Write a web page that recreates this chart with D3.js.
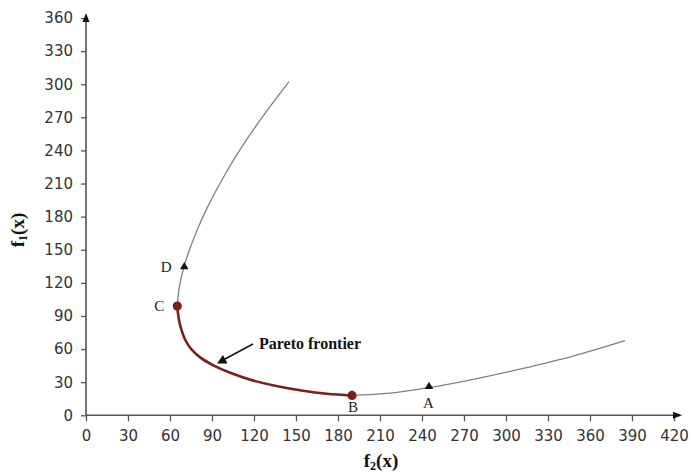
<!DOCTYPE html>
<html>
<head>
<meta charset="utf-8">
<script src="https://cdn.jsdelivr.net/npm/d3@7/dist/d3.min.js"></script>
<style>
  html, body { margin: 0; padding: 0; background: #fff; }
  svg { display: block; }
</style>
</head>
<body>
<svg id="chart" width="692" height="473"></svg>
<script>
// ---- data ----
const xTicks = [0, 30, 60, 90, 120, 150, 180, 210, 240, 270, 300, 330, 360, 390, 420];
const yTicks = [0, 30, 60, 90, 120, 150, 180, 210, 240, 270, 300, 330, 360];

// upper branch, from C upward
const upperF2 = [65.2, 66.0, 67.2, 70.1, 73.9, 80.1, 87.3, 97.9, 109.7, 125.8, 145.0];
const upperF1 = [99.0, 110.0, 120.0, 135.0, 150.0, 170.0, 190.0, 215.0, 240.0, 270.0, 302.4];

// Pareto frontier, from C to B
const paretoF2 = [65.2, 66.2, 68.0, 71.0, 75.5, 82.0, 91.0, 103.0, 118.0, 135.0, 155.0, 172.0, 190.0];
const paretoF1 = [99.0, 88.0, 78.0, 68.0, 59.5, 52.0, 45.3, 38.5, 32.0, 26.8, 22.3, 19.6, 18.0];

// right branch, from B to the right end
const rightF2 = [190.0, 217.0, 244.5, 276.6, 312.4, 348.0, 385.0];
const rightF1 = [18.0, 20.0, 25.0, 32.6, 42.6, 53.7, 67.6];

// marked points
const circleNames = ["C", "B"];
const circleF2 = [65.2, 190.0];
const circleF1 = [99.0, 18.0];
const triNames = ["A", "D"];
const triF2 = [245.0, 70.2];
const triF1 = [26.0, 134.5];

// ---- drawing ----
const svg = d3.select("#chart");
const x = d3.scaleLinear().domain([0, 420]).range([86, 674]);
const y = d3.scaleLinear().domain([0, 360]).range([415.3, 18]);

const zip = (a, b) => a.map((v, i) => [v, b[i]]);
const line = d3.line().x(d => x(d[0])).y(d => y(d[1])).curve(d3.curveCatmullRom.alpha(0.5));

// axes
const axisColor = "#555";
const yAxis = svg.append("g").attr("transform", `translate(${x(0)},0)`)
  .call(d3.axisLeft(y).tickValues(yTicks).tickSize(5).tickPadding(8).tickFormat(d3.format("d")));
const xAxis = svg.append("g").attr("transform", `translate(0,${y(0)})`)
  .call(d3.axisBottom(x).tickValues(xTicks).tickSize(6).tickPadding(9).tickFormat(d3.format("d")));
[yAxis, xAxis].forEach(g => {
  g.select(".domain").remove();
  g.selectAll(".tick line").attr("stroke", axisColor).attr("stroke-width", 1.3);
  g.selectAll(".tick text").attr("fill", "#333")
    .style("font-family", "'DejaVu Sans', Verdana, sans-serif").style("font-size", "15px");
});

// axis lines with arrowheads
svg.append("line").attr("x1", x(0)).attr("y1", y(0)).attr("x2", 678).attr("y2", y(0))
  .attr("stroke", axisColor).attr("stroke-width", 1.6);
svg.append("path").attr("d", `M682,${y(0)} L673,${y(0) - 3.5} L673,${y(0) + 3.5} Z`).attr("fill", "#111");
svg.append("line").attr("x1", x(0)).attr("y1", y(0)).attr("x2", x(0)).attr("y2", 18)
  .attr("stroke", axisColor).attr("stroke-width", 1.6);
svg.append("path").attr("d", `M${x(0)},13 L${x(0) - 3.5},22 L${x(0) + 3.5},22 Z`).attr("fill", "#111");

// curves
svg.append("path").datum(zip(upperF2, upperF1)).attr("d", line)
  .attr("fill", "none").attr("stroke", "#808080").attr("stroke-width", 1.3);
svg.append("path").datum(zip(rightF2, rightF1)).attr("d", line)
  .attr("fill", "none").attr("stroke", "#808080").attr("stroke-width", 1.3);
svg.append("path").datum(zip(paretoF2, paretoF1)).attr("d", line)
  .attr("fill", "none").attr("stroke", "#7b1e1e").attr("stroke-width", 2.6);

// markers
svg.selectAll("circle.pt").data(zip(circleF2, circleF1)).enter().append("circle")
  .attr("cx", d => x(d[0])).attr("cy", d => y(d[1])).attr("r", 4.6).attr("fill", "#7b1e1e");
svg.selectAll("path.tri").data(zip(triF2, triF1)).enter().append("path")
  .attr("transform", d => `translate(${x(d[0])},${y(d[1])})`)
  .attr("d", d3.symbol().type(d3.symbolTriangle).size(32)).attr("fill", "#111");

// point labels
const serif = "'Liberation Serif', 'Times New Roman', serif";
const labelPos = {
  C: [x(65.2) - 18, y(99) + 5],
  B: [x(190) + 1, y(18) + 17],
  A: [x(245) - 0.5, y(26) + 21],
  D: [x(70.2) - 18, y(134.5) + 5]
};
Object.entries(labelPos).forEach(([k, p]) => {
  svg.append("text").attr("x", p[0]).attr("y", p[1]).attr("text-anchor", "middle")
    .style("font-family", serif).style("font-size", "15px").attr("fill", "#222").text(k);
});

// annotation
svg.append("text").attr("x", 259).attr("y", 348.5)
  .style("font-family", serif).style("font-size", "16px").style("font-weight", "bold")
  .attr("fill", "#111").text("Pareto frontier");
svg.append("line").attr("x1", 253).attr("y1", 344).attr("x2", 224).attr("y2", 359.5)
  .attr("stroke", "#111").attr("stroke-width", 1.5);
svg.append("path").attr("d", "M217,363.5 L223,355 L227.5,363.5 Z").attr("fill", "#111");

// axis titles
const bt = svg.append("text").attr("x", 381).attr("y", 467).attr("text-anchor", "middle")
  .style("font-family", serif).style("font-size", "19px").style("font-weight", "bold").attr("fill", "#111");
bt.append("tspan").text("f");
bt.append("tspan").attr("dy", 3).style("font-size", "12px").text("2");
bt.append("tspan").attr("dy", -3).text("(x)");

const lt = svg.append("text").attr("transform", "translate(24,230) rotate(-90)").attr("text-anchor", "middle")
  .style("font-family", serif).style("font-size", "19px").style("font-weight", "bold").attr("fill", "#111");
lt.append("tspan").text("f");
lt.append("tspan").attr("dy", 3).style("font-size", "12px").text("1");
lt.append("tspan").attr("dy", -3).text("(x)");
</script>
</body>
</html>
